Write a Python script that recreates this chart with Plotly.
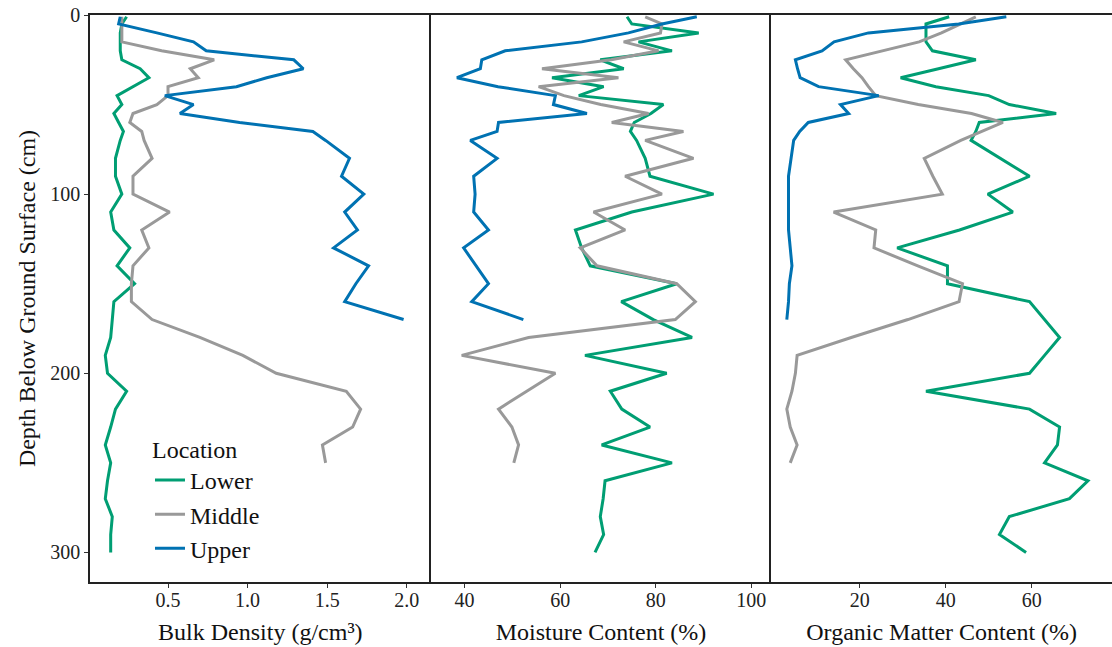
import plotly.graph_objects as go
from plotly.subplots import make_subplots

# ---- data ----
locations = ["Lower", "Middle", "Upper"]
colors = {"Lower": "#009E73", "Middle": "#999999", "Upper": "#0072B2"}

depth_upper = [1, 5, 10, 15, 20, 25, 30, 35, 40, 45, 50, 55, 60, 65, 70, 80, 90,
               100, 110, 120, 130, 140, 150, 160, 170]
depth_middle = [1, 5, 10, 15, 20, 25, 30, 35, 40, 45, 50, 55, 60, 65, 70, 80, 90,
                100, 110, 120, 130, 140, 150, 160, 170, 180, 190, 200, 210, 220,
                230, 240, 250]
depth_lower = [1, 5, 10, 15, 20, 25, 30, 35, 40, 45, 50, 55, 60, 65, 70, 80, 90,
               100, 110, 120, 130, 140, 150, 160, 170, 180, 190, 200, 210, 220,
               230, 240, 250, 260, 270, 280, 290, 300]

# Bulk density (g/cm3)
bd_upper = [0.20, 0.19, 0.43, 0.66, 0.74, 1.29, 1.35, 1.12, 0.93, 0.48, 0.66, 0.575,
            0.95, 1.41, 1.49, 1.64, 1.59, 1.73, 1.61, 1.69, 1.54, 1.76, 1.68, 1.61, 1.98]
bd_middle = [0.21, 0.21, 0.21, 0.21, 0.46, 0.79, 0.64, 0.69, 0.50, 0.50, 0.43, 0.28,
             0.26, 0.335, 0.35, 0.40, 0.28, 0.28, 0.51, 0.335, 0.38, 0.28, 0.27, 0.27,
             0.40, 0.70, 0.97, 1.18, 1.62, 1.71, 1.66, 1.47, 1.49]
bd_lower = [0.24, 0.21, 0.20, 0.20, 0.20, 0.21, 0.325, 0.38, 0.28, 0.18, 0.21, 0.16,
            0.19, 0.22, 0.20, 0.17, 0.17, 0.21, 0.14, 0.16, 0.26, 0.18, 0.29, 0.16,
            0.15, 0.14, 0.106, 0.12, 0.24, 0.17, 0.14, 0.106, 0.14, 0.12, 0.106, 0.15,
            0.14, 0.14]

# Moisture content (%)
mc_upper = [88.6, 81.3, 74.3, 64.5, 48.5, 43.6, 43.3, 38.4, 47.0, 59.0, 58.6, 65.6,
            47.1, 46.8, 41.2, 46.8, 41.9, 42.2, 41.9, 45.0, 39.8, 42.4, 45.0, 41.5, 52.3]
mc_middle = [77.8, 81.3, 81.0, 73.3, 80.6, 70.7, 56.2, 72.2, 55.5, 60.8, 68.5, 78.5,
             70.8, 85.8, 77.8, 87.9, 73.6, 81.3, 67.0, 73.6, 64.2, 67.7, 84.4, 88.3,
             84.1, 53.4, 39.4, 59.0, 53.0, 47.1, 49.9, 51.3, 50.3]
mc_lower = [74.0, 75.0, 89.0, 76.4, 83.4, 68.4, 73.3, 58.3, 69.1, 63.9, 81.6, 79.0,
            75.5, 74.7, 76.0, 77.8, 78.8, 92.1, 75.0, 63.2, 64.5, 66.3, 84.4, 72.8,
            79.5, 87.6, 65.2, 82.3, 70.5, 72.9, 78.8, 68.7, 83.4, 69.4, 69.0, 68.4,
            69.1, 67.3]

# Organic matter content (%)
om_upper = [54.1, 43.0, 22.0, 14.0, 11.2, 5.0, 5.5, 6.1, 10.4, 24.4, 15.5, 17.4,
            8.0, 6.0, 4.6, 4.0, 3.4, 3.4, 3.4, 3.4, 3.8, 4.2, 3.6, 3.4, 3.0]
om_middle = [47.0, 43.5, 39.0, 33.8, 25.0, 16.7, 18.5, 20.5, 22.0, 23.7, 33.6, 46.0,
             53.3, 48.5, 43.5, 35.0, 37.0, 39.2, 13.9, 23.7, 23.3, 33.5, 43.9, 43.1,
             31.2, 18.0, 5.4, 5.0, 4.2, 3.0, 3.8, 5.4, 3.8]
om_lower = [40.8, 35.4, 35.4, 35.4, 36.9, 47.0, 38.3, 29.5, 37.7, 50.0, 54.8, 65.7,
            47.8, 47.0, 45.9, 52.7, 59.5, 49.8, 55.6, 43.2, 28.7, 40.4, 40.4, 59.5,
            63.0, 66.5, 63.0, 59.5, 35.4, 59.5, 66.5, 66.0, 63.0, 73.1, 68.8, 54.8,
            52.5, 58.7]

panels = [
    ("Bulk Density (g/cm³)", {"Lower": bd_lower, "Middle": bd_middle, "Upper": bd_upper}),
    ("Moisture Content (%)", {"Lower": mc_lower, "Middle": mc_middle, "Upper": mc_upper}),
    ("Organic Matter Content (%)", {"Lower": om_lower, "Middle": om_middle, "Upper": om_upper}),
]
depths = {"Lower": depth_lower, "Middle": depth_middle, "Upper": depth_upper}

x_ranges = [[0.01, 2.15], [32.9, 104.2], [-0.6, 78.7]]
x_ticks = [[0.5, 1.0, 1.5, 2.0], [40, 60, 80, 100], [20, 40, 60]]
x_ticktext = [["0.5", "1.0", "1.5", "2.0"], ["40", "60", "80", "100"], ["20", "40", "60"]]

FONT = "Liberation Serif, Times New Roman, serif"

fig = make_subplots(rows=1, cols=3, shared_yaxes=True, horizontal_spacing=0)

for i, (title, data) in enumerate(panels):
    for loc in locations:
        fig.add_trace(
            go.Scatter(
                x=data[loc], y=depths[loc], mode="lines", name=loc,
                legendgroup=loc, showlegend=(i == 0),
                line=dict(color=colors[loc], width=3),
            ),
            row=1, col=i + 1,
        )
    fig.update_xaxes(
        range=x_ranges[i], tickvals=x_ticks[i], ticktext=x_ticktext[i],
        showline=True, linecolor="#222", linewidth=1.5, mirror=True,
        ticks="outside", ticklen=4, tickcolor="#333", showgrid=False, zeroline=False,
        ticklabelstandoff=-5,
        title=dict(text=title, font=dict(size=24, family=FONT, color="#111"), standoff=13),
        tickfont=dict(size=20, family=FONT, color="#222"),
        row=1, col=i + 1,
    )
    fig.update_yaxes(
        range=[316.5, 0], showline=True, linecolor="#222", linewidth=1.5,
        showgrid=False, zeroline=False,
        row=1, col=i + 1,
    )

fig.update_yaxes(
    tickvals=[0, 100, 200, 300], ticks="outside", ticklen=4, tickcolor="#333",
    tickfont=dict(size=20, family=FONT, color="#222"),
    title=dict(text="Depth Below Ground Surface (cm)", font=dict(size=24, family=FONT, color="#111"),
               standoff=8),
    row=1, col=1,
)
fig.update_yaxes(ticks="", showticklabels=False, row=1, col=2)
fig.update_yaxes(ticks="", showticklabels=False, row=1, col=3)

fig.update_layout(
    width=1112, height=647,
    margin=dict(l=90, r=0, t=15, b=65),
    plot_bgcolor="white", paper_bgcolor="white",
    font=dict(family=FONT, color="#111"),
    legend=dict(
        title=dict(text="Location", font=dict(size=24, family=FONT)),
        font=dict(size=24, family=FONT),
        x=0.0587, y=0.274, xanchor="left", yanchor="top",
        bgcolor="rgba(0,0,0,0)", tracegroupgap=0,
    ),
)

fig.write_html("out.html")
